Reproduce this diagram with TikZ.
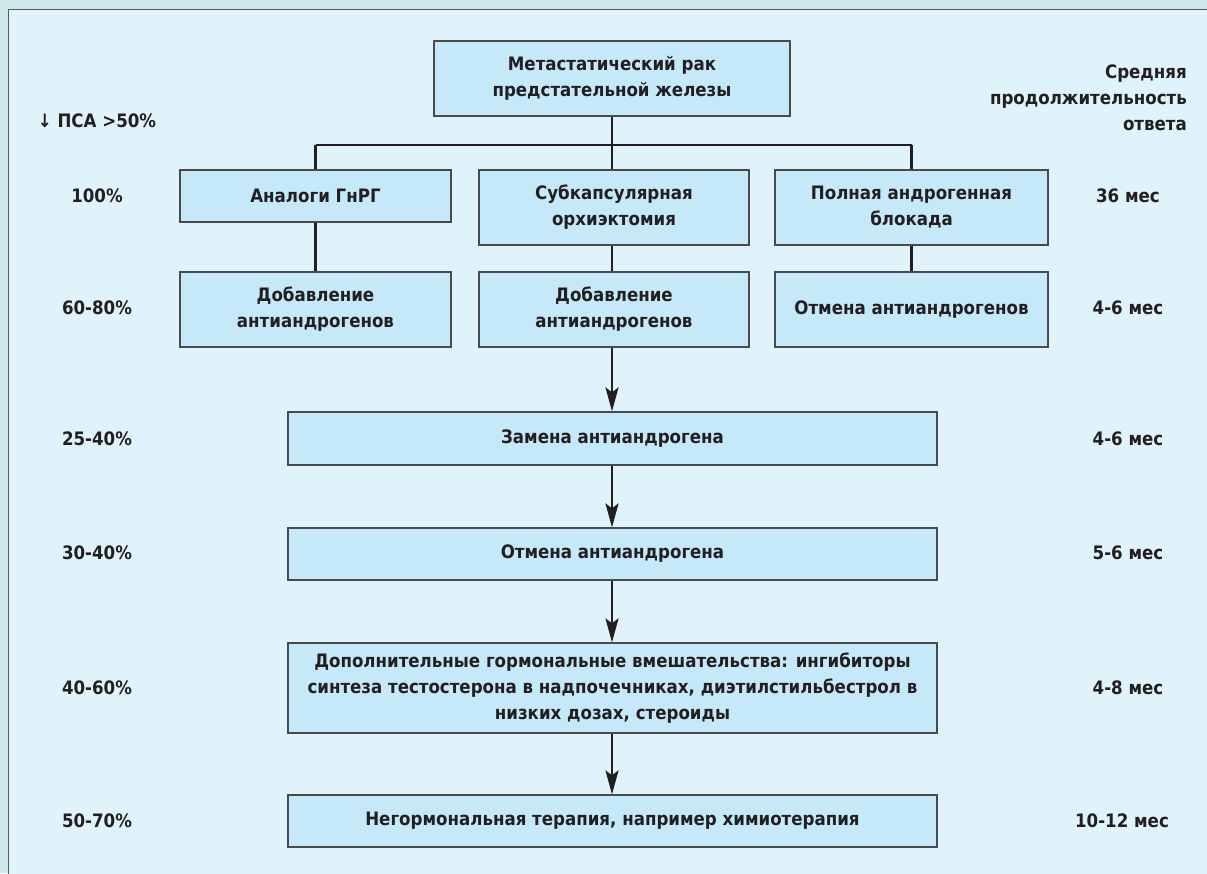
\documentclass[tikz,border=0pt]{standalone}
\usepackage{fontspec}
\setmainfont{DejaVu Sans Condensed}[BoldFont={DejaVu Sans Condensed Bold}]
\usetikzlibrary{arrows.meta}
\definecolor{outerbg}{HTML}{CFE8EC}
\definecolor{bg}{HTML}{E0F3FA}
\definecolor{boxfill}{HTML}{C6E9F9}
\definecolor{boxline}{HTML}{4A4A4A}
\definecolor{txt}{HTML}{231F20}
\tikzset{
  box/.style={draw=boxline, line width=1.2pt, fill=boxfill, inner sep=0pt, align=center,
    font=\bfseries\fontsize{18.5}{26}\selectfont, text=txt},
  lbl/.style={font=\bfseries\fontsize{18.5}{26}\selectfont, text=txt, inner sep=0pt},
  conn/.style={line width=2.8pt, draw=txt},
  arr/.style={conn, -{Stealth[length=24pt,width=13pt,inset=5pt]}}
}
\begin{document}
\begin{tikzpicture}[x=1pt,y=-1pt]
\useasboundingbox (0,0) rectangle (1207,873);
\fill[outerbg] (0,0) rectangle (1207,873);
\draw[fill=bg, draw=gray!70!black, line width=1pt] (8,9) rectangle (1220,890);

% boxes
\node[box, minimum width=356pt, minimum height=75pt] (top) at (612,78.5) {Метастатический рак\\предстательной железы};
\node[box, minimum width=271pt, minimum height=52pt] (a1) at (315.5,196) {Аналоги ГнРГ};
\node[box, minimum width=270pt, minimum height=75pt] (b1) at (614,207.5) {Субкапсулярная\\орхиэктомия};
\node[box, minimum width=273pt, minimum height=75pt] (c1) at (911.5,207.5) {Полная андрогенная\\блокада};
\node[box, minimum width=271pt, minimum height=75pt] (a2) at (315.5,309.5) {Добавление\\антиандрогенов};
\node[box, minimum width=270pt, minimum height=75pt] (b2) at (614,309.5) {Добавление\\антиандрогенов};
\node[box, minimum width=273pt, minimum height=75pt] (c2) at (911.5,309.5) {Отмена антиандрогенов};
\node[box, minimum width=649pt, minimum height=53pt] (d) at (612.5,438.5) {Замена антиандрогена};
\node[box, minimum width=649pt, minimum height=52pt] (e) at (612.5,554) {Отмена антиандрогена};
\node[box, minimum width=649pt, minimum height=90pt] (f) at (612.5,688) {Дополнительные гормональные вмешательства: ингибиторы\\синтеза тестостерона в надпочечниках, диэтилстильбестрол в\\низких дозах, стероиды};
\node[box, minimum width=649pt, minimum height=52pt] (g) at (612.5,821) {Негормональная терапия, например химиотерапия};

% connectors
\coordinate (j) at (612,145);
\draw[conn] (top.south -| j) -- (j);
\draw[conn] (j -| a1) -- (j -| c1);
\draw[conn] (j -| a1) -- (a1.north);
\draw[conn] (j) -- (j |- b1.north);
\draw[conn] (j -| c1) -- (c1.north);
\draw[conn] (a1.south) -- (a2.north);
\draw[conn] (b1.south -| j) -- (b2.north -| j);
\draw[conn] (c1.south) -- (c2.north);
\draw[arr] (b2.south -| j) -- (d.north -| j);
\draw[arr] (d.south -| j) -- (e.north -| j);
\draw[arr] (e.south -| j) -- (f.north -| j);
\draw[arr] (f.south -| j) -- (g.north -| j);

% left labels
\node[lbl] (l0) at (97,121) {↓ ПСА >50\%};
\node[lbl] (l1) at (97,196) {100\%};
\node[lbl] (l2) at (97,308) {60-80\%};
\node[lbl] (l3) at (97,439) {25-40\%};
\node[lbl] (l4) at (97,553) {30-40\%};
\node[lbl] (l5) at (97,688) {40-60\%};
\node[lbl] (l6) at (97,821) {50-70\%};

% right labels
\node[lbl, align=right, anchor=east] (r0) at (1187,98) {Средняя\\продолжительность\\ответа};
\node[lbl] (r1) at (1128,196) {36 мес};
\node[lbl] (r2) at (1128,308) {4-6 мес};
\node[lbl] (r3) at (1128,439) {4-6 мес};
\node[lbl] (r4) at (1128,553) {5-6 мес};
\node[lbl] (r5) at (1128,688) {4-8 мес};
\node[lbl] (r6) at (1122,821) {10-12 мес};
\end{tikzpicture}
\end{document}
